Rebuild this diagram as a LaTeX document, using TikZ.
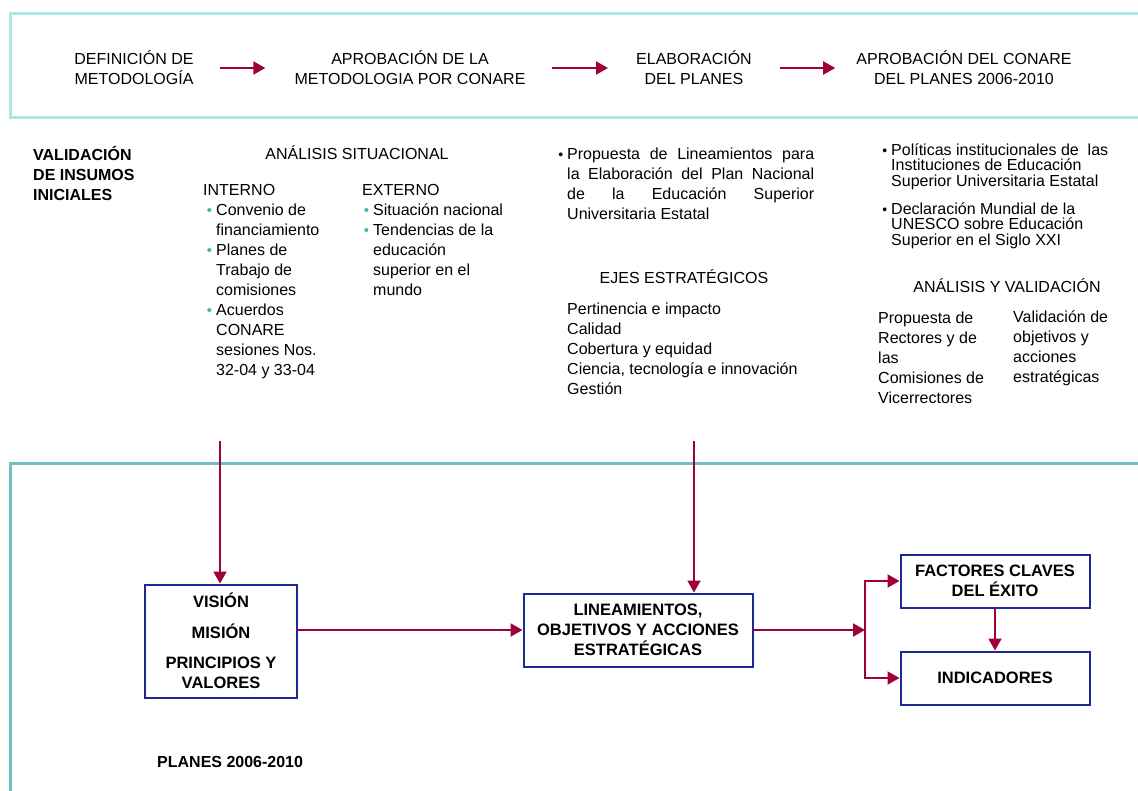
\documentclass[tikz,border=0pt]{standalone}
\usepackage{fontspec}
\setmainfont{Liberation Sans}
\usepackage{tikz}
\usetikzlibrary{positioning}
\usetikzlibrary{arrows.meta,calc}
\definecolor{Flecha}{RGB}{160,0,58}
\definecolor{Marco}{RGB}{30,40,150}
\definecolor{Cielo}{RGB}{170,232,232}
\definecolor{Turquesa}{RGB}{116,190,198}
\definecolor{Punto}{RGB}{64,182,184}
\newcommand{\pto}{\llap{\textcolor{Punto}{\fontsize{15}{10}\selectfont\textbullet}\hspace{4pt}}}
\newcommand{\ptn}{\llap{{\fontsize{14}{11}\selectfont\textbullet}\hspace{4pt}}}
\tikzstyle{txt}=[inner sep=0pt,align=left,anchor=west]
\tikzstyle{ctxt}=[inner sep=0pt,align=center]
\tikzstyle{negrita}=[font=\fontsize{16}{20}\selectfont\bfseries]
\tikzstyle{apretado}=[font=\fontsize{16}{15.7}\selectfont]
\tikzstyle{caja}=[rectangle,draw=Marco,line width=2pt,inner sep=0pt,
    align=center,font=\fontsize{16.5}{20}\selectfont\bfseries]
\tikzstyle{flujo}=[->,draw=Flecha,line width=2pt]

\begin{document}
\begin{tikzpicture}[x=1pt,y=-1pt,>={Triangle[length=12pt,width=13pt]},
                    font=\fontsize{16}{20}\selectfont]
  \useasboundingbox (0,0) rectangle (1138,790);
  % marcos
  \draw[Cielo,line width=3pt] (1142,13) -- (10,13) -- (10,117) -- (1142,117);
  \draw[Turquesa,line width=3pt] (1142,463) -- (10,463) -- (10,795);

  % etapas
  \node[ctxt] (defin)  at (134,68) {DEFINICIÓN DE\\METODOLOGÍA};
  \node[ctxt] (aprob)  at (410,68) {APROBACIÓN DE LA\\METODOLOGIA POR CONARE};
  \node[ctxt] (elab)   at (694,68) {ELABORACIÓN\\DEL PLANES};
  \node[ctxt] (aprobc) at (964,68) {APROBACIÓN DEL CONARE\\DEL PLANES 2006-2010};
  \draw[flujo,shorten <=26pt,shorten >=29pt] (defin) -- (aprob);
  \draw[flujo,shorten <=26pt,shorten >=28pt] (aprob) -- (elab);
  \draw[flujo,shorten <=28pt,shorten >=21pt] (elab) -- (aprobc);

  % insumos
  \node[txt,negrita] (valid) at (33,173) {VALIDACIÓN\\DE INSUMOS\\INICIALES};
  \node[ctxt] (anasit) at (357,153) {ANÁLISIS SITUACIONAL};
  \node[txt] (interno) at (203,190) {INTERNO};
  \node[txt] (intlist) at (216,291) {\pto Convenio de\\financiamiento\\\pto Planes de\\Trabajo de\\comisiones\\\pto Acuerdos\\CONARE\\sesiones Nos.\\32-04 y 33-04};
  \node[txt] (externo) at (362,190) {EXTERNO};
  \node[txt] (extlist) at (373,250) {\pto Situación nacional\\\pto Tendencias de la\\educación\\superior en el\\mundo};

  \node[txt,text width=247pt,align=justify] (propu) at (567,184) {\ptn Propuesta de Lineamientos para\linebreak la Elaboración del Plan Nacional\linebreak de la Educación Superior\linebreak Universitaria Estatal};
  \node[ctxt] (ejes) at (684,277) {EJES ESTRATÉGICOS};
  \node[txt] (ejeslist) at (567,349) {Pertinencia e impacto\\Calidad\\Cobertura y equidad\\Ciencia, tecnología e innovación\\Gestión};

  \node[txt,apretado] (politi) at (891,166.5) {\ptn Políticas institucionales de \ las\\Instituciones de Educación\\Superior Universitaria Estatal};
  \node[txt,apretado] (declar) at (891,225.5) {\ptn Declaración Mundial de la\\UNESCO sobre Educación\\Superior en el Siglo XXI};
  \node[ctxt] (anval) at (1007,286) {ANÁLISIS Y VALIDACIÓN};
  \node[txt] (propr) at (878,358) {Propuesta de\\Rectores y de\\las\\Comisiones de\\Vicerrectores};
  \node[txt] (valobj) at (1013,348) {Validación de\\objetivos y\\acciones\\estratégicas};

  % planes
  \node[caja,minimum width=152pt,minimum height=113pt] (vision) at (221,641) {VISIÓN\\[11pt]MISIÓN\\[10pt]PRINCIPIOS Y\\VALORES};
  \node[caja,minimum width=229pt,minimum height=73pt] (lineam) at (638,630) {LINEAMIENTOS,\\OBJETIVOS Y ACCIONES\\ESTRATÉGICAS};
  \node[caja,minimum width=189pt,minimum height=53pt] (factor) at (995,581) {FACTORES CLAVES\\DEL ÉXITO};
  \node[caja,minimum width=189pt,minimum height=53pt,below=42pt of factor] (indica) {INDICADORES};
  \node[txt,negrita] (planes) at (157,762) {PLANES 2006-2010};

  \coordinate (bajaA) at (220,441);
  \coordinate (bajaB) at (694,441);
  \coordinate (rama) at (865,630);
  \draw[flujo] (bajaA) -- (bajaA |- vision.north);
  \draw[flujo] (bajaB) -- (bajaB |- lineam.north);
  \draw[flujo] (vision.east |- lineam.west) -- (lineam.west);
  \draw[flujo] (lineam.east) -- (rama);
  \draw[flujo] (rama) |- (factor.west);
  \draw[flujo] (rama) |- (indica.west);
  \draw[flujo] (factor) -- (indica);
\end{tikzpicture}
\end{document}
